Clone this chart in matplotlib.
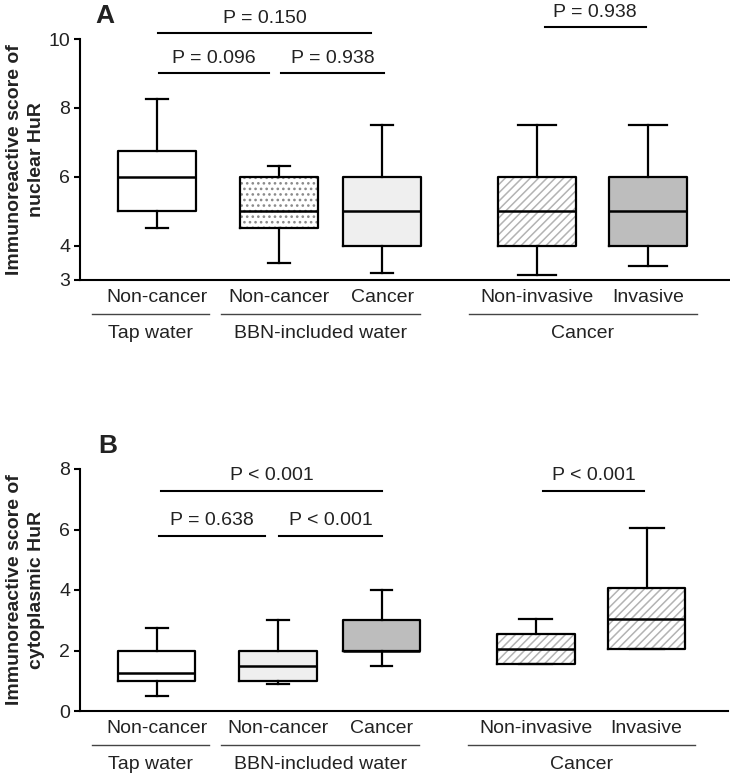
"""
Boxplots do escore imunorreativo de HuR (nuclear e citoplasmático)
"""

import matplotlib
matplotlib.use('Agg')
import matplotlib.pyplot as plt
from matplotlib import transforms

plt.rcParams['font.family'] = ['Liberation Sans', 'DejaVu Sans']
plt.rcParams['font.size'] = 14
plt.rcParams['hatch.linewidth'] = 1.1

COR_TEXTO = '#222222'

# Categorias e grupos
categorias = ['Non-cancer', 'Non-cancer', 'Cancer', 'Non-invasive', 'Invasive']
grupos = ['Tap water', 'BBN-included water', 'Cancer']
posicoes = [1, 2, 2.85, 4.12, 5.03]

# Painel A - escore nuclear (min, q1, mediana, q3, max)
nuc_min = [4.5, 3.5, 3.2, 3.15, 3.4]
nuc_q1 = [5.0, 4.5, 4.0, 4.0, 4.0]
nuc_med = [6.0, 5.0, 5.0, 5.0, 5.0]
nuc_q3 = [6.75, 6.0, 6.0, 6.0, 6.0]
nuc_max = [8.25, 6.3, 7.5, 7.5, 7.5]

# Painel B - escore citoplasmático
cit_min = [0.5, 0.9, 1.5, 1.55, 2.05]
cit_q1 = [1.0, 1.0, 2.0, 1.55, 2.05]
cit_med = [1.25, 1.5, 2.0, 2.05, 3.05]
cit_q3 = [2.0, 2.0, 3.0, 2.55, 4.05]
cit_max = [2.75, 3.0, 4.0, 3.05, 6.05]

# Comparações: (x1, x2, y, texto)
comparacoes_a = [
    (1.01, 2.76, 10.17, 'P = 0.150'),
    (1.02, 1.92, 9.01, 'P = 0.096'),
    (2.02, 2.86, 9.01, 'P = 0.938'),
    (4.18, 5.01, 10.35, 'P = 0.938'),
]
comparacoes_b = [
    (1.04, 2.85, 7.28, 'P < 0.001'),
    (1.02, 1.89, 5.79, 'P = 0.638'),
    (2.01, 2.85, 5.79, 'P < 0.001'),
    (4.18, 5.01, 7.28, 'P < 0.001'),
]

# Linhas dos grupos no eixo x (inicio, fim)
linhas_grupos = [(0.47, 1.43), (1.53, 3.16), (3.56, 5.43)]


def desenhar_painel(fig, ax, mins, q1s, meds, q3s, maxs, cores, hachuras,
                    cor_hachura, capwidths, comparacoes, ylim, yticks, ylabel):
    stats = []
    for lo, q1, md, q3, hi in zip(mins, q1s, meds, q3s, maxs):
        stats.append(dict(whislo=lo, q1=q1, med=md, q3=q3, whishi=hi, fliers=[]))

    # Fundo das caixas (cor + hachura)
    fundo = ax.bxp(stats, positions=posicoes, widths=0.64, patch_artist=True,
                   showfliers=False, showcaps=False,
                   boxprops=dict(linewidth=0),
                   whiskerprops=dict(linewidth=0),
                   medianprops=dict(linewidth=0))
    for caixa, cor, hachura in zip(fundo['boxes'], cores, hachuras):
        caixa.set_facecolor(cor)
        if hachura:
            caixa.set_hatch(hachura)
            caixa.set_edgecolor(cor_hachura[hachura])

    # Contorno preto por cima
    ax.bxp(stats, positions=posicoes, widths=0.64, patch_artist=False,
           showfliers=False, capwidths=capwidths,
           boxprops=dict(color='black', linewidth=1.6),
           whiskerprops=dict(color='black', linewidth=1.6),
           capprops=dict(color='black', linewidth=1.6),
           medianprops=dict(color='black', linewidth=1.8))

    ax.set_xlim(0.37, 5.70)
    ax.set_ylim(*ylim)
    ax.set_yticks(yticks)
    ax.set_xticks([])
    ax.spines['top'].set_visible(False)
    ax.spines['right'].set_visible(False)
    ax.spines['left'].set_linewidth(1.5)
    ax.spines['bottom'].set_linewidth(1.5)
    ax.tick_params(axis='y', length=4, width=1.5, labelsize=14,
                   labelcolor=COR_TEXTO, pad=3)

    ax.set_ylabel(ylabel, fontweight='bold', fontsize=14, color=COR_TEXTO,
                  linespacing=1.4)
    ax.yaxis.set_label_coords(-0.054, 0.5)

    # Comparações com valor de P
    for x1, x2, y, texto in comparacoes:
        ax.plot([x1, x2], [y, y], color='black', linewidth=1.5, clip_on=False)
        ax.annotate(texto, xy=((x1 + x2) / 2, y), xytext=(0, 7.5),
                    textcoords='offset points', ha='center', va='baseline',
                    fontsize=14, color=COR_TEXTO, annotation_clip=False)

    # Rótulos das categorias e grupos abaixo do eixo
    trans = ax.get_xaxis_transform()
    for pos, cat in zip(posicoes, categorias):
        ax.annotate(cat, xy=(pos, 0), xycoords=trans, xytext=(0, -12.6),
                    textcoords='offset points', ha='center', va='center',
                    fontsize=14, color=COR_TEXTO, annotation_clip=False)
    trans_linha = transforms.offset_copy(trans, fig=fig, y=-24.8, units='points')
    for (x1, x2), grupo in zip(linhas_grupos, grupos):
        ax.plot([x1, x2], [0, 0], color='#444444', linewidth=1.0,
                transform=trans_linha, clip_on=False)
        ax.annotate(grupo, xy=((x1 + x2) / 2, 0), xycoords=trans,
                    xytext=(0, -38.5), textcoords='offset points',
                    ha='center', va='center', fontsize=14, color=COR_TEXTO,
                    annotation_clip=False)


fig = plt.figure(figsize=(7.3, 7.74), dpi=100)
ax_a = fig.add_axes([80 / 730, 1 - 280 / 774, 650 / 730, 241 / 774])
ax_b = fig.add_axes([80 / 730, 1 - 711 / 774, 648 / 730, 242 / 774])

cor_hachura = {'...': '#8a8a8a', '////': '#b3b3b3'}

desenhar_painel(fig, ax_a, nuc_min, nuc_q1, nuc_med, nuc_q3, nuc_max,
                cores=['white', 'white', '#efefef', 'white', '#bdbdbd'],
                hachuras=[None, '...', None, '////', None],
                cor_hachura=cor_hachura,
                capwidths=[0.18, 0.18, 0.18, 0.31, 0.31],
                comparacoes=comparacoes_a, ylim=(3, 10), yticks=[3, 4, 6, 8, 10],
                ylabel='Immunoreactive score of\nnuclear HuR')

desenhar_painel(fig, ax_b, cit_min, cit_q1, cit_med, cit_q3, cit_max,
                cores=['white', '#efefef', '#bdbdbd', 'white', 'white'],
                hachuras=[None, None, None, '////', '////'],
                cor_hachura=cor_hachura,
                capwidths=[0.18, 0.18, 0.18, 0.27, 0.28],
                comparacoes=comparacoes_b, ylim=(0, 8), yticks=[0, 2, 4, 6, 8],
                ylabel='Immunoreactive score of\ncytoplasmic HuR')

fig.text(95 / 730, 1 - 23 / 774, 'A', fontsize=19, fontweight='bold',
         color=COR_TEXTO, va='baseline')
fig.text(98 / 730, 1 - 453 / 774, 'B', fontsize=19, fontweight='bold',
         color=COR_TEXTO, va='baseline')

fig.savefig('out.png', dpi=100)
